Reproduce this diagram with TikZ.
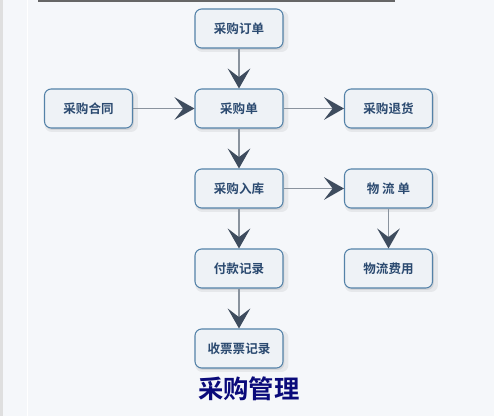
\documentclass[tikz,border=0pt]{standalone}
\usepackage{fontspec}
\setmainfont{Noto Sans CJK SC}
\newfontfamily\cjkb{Noto Sans CJK SC Bold}
\usetikzlibrary{arrows.meta,shadows}
\definecolor{bgc}{HTML}{F5F7FA}
\definecolor{boxfill}{HTML}{EEF2F6}
\definecolor{boxdraw}{HTML}{5482A8}
\definecolor{boxtext}{HTML}{2B4A70}
\definecolor{linec}{HTML}{8A939E}
\definecolor{headc}{HTML}{3E4C5E}
\definecolor{titlec}{HTML}{0A0A7A}
\tikzset{
  stepbox/.style={draw=boxdraw, line width=0.8pt, fill=boxfill, rounded corners=5pt,
    minimum width=66pt, minimum height=29.25pt, inner sep=0pt,
    font=\cjkb\fontsize{9.4pt}{11pt}\selectfont, text=boxtext,
    drop shadow={shadow xshift=2pt, shadow yshift=-2pt, shadow scale=1.06, opacity=0.06, fill=black},
    drop shadow={shadow xshift=1pt, shadow yshift=-1.5pt, opacity=0.08, fill=black}},
  flow/.style={draw=linec, line width=1pt,
    -{Stealth[length=15pt,width=17pt,inset=6.5pt,fill=headc,color=headc]}}
}
\begin{document}
\begin{tikzpicture}[x=0.75pt,y=-0.75pt]
\useasboundingbox (0,0) rectangle (494,416);
\fill[bgc] (0,0) rectangle (494,416);
\fill[gray!25] (0,0) rectangle (3,416);
\draw[white, line width=0.6pt] (27,0) -- (27,416);
\fill[gray!80!black] (38,0) rectangle (395,1.8);
\node[stepbox] (order) at (239,28.5) {采购订单};
\node[stepbox] (contract) at (88.5,108.5) {采购合同};
\node[stepbox] (po) at (239,108.5) {采购单};
\node[stepbox] (ret) at (388.5,108.5) {采购退货};
\node[stepbox] (stock) at (239,188.5) {采购入库};
\node[stepbox] (logi) at (388.5,188.5) {物\ 流\ 单};
\node[stepbox] (pay) at (239,268.5) {付款记录};
\node[stepbox] (fee) at (388.5,268.5) {物流费用};
\node[stepbox] (inv) at (239,348.5) {收票票记录};
\node[font=\cjkb\fontsize{19pt}{22pt}\selectfont, text=titlec] (title) at (249,389) {采购管理};
\draw[flow] (order) -- (po);
\draw[flow] (contract) -- (po);
\draw[flow] (po) -- (ret);
\draw[flow] (po) -- (stock);
\draw[flow] (stock) -- (logi);
\draw[flow] (stock) -- (pay);
\draw[flow] (logi) -- (fee);
\draw[flow] (pay) -- (inv);
\end{tikzpicture}
\end{document}
